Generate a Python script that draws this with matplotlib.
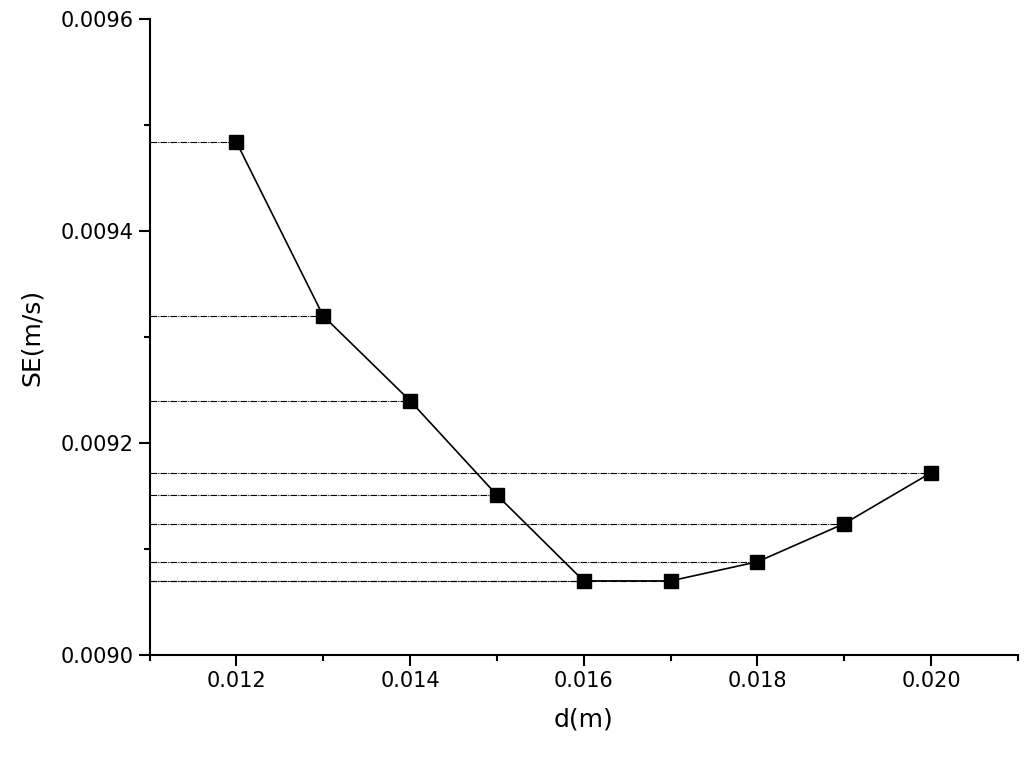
import matplotlib.pyplot as plt
from matplotlib.ticker import MultipleLocator

# data
d = [0.012, 0.013, 0.014, 0.015, 0.016, 0.017, 0.018, 0.019, 0.020]
se = [0.009484, 0.00932, 0.00924, 0.009151, 0.00907, 0.00907, 0.009088, 0.009124, 0.009172]

fig = plt.figure(figsize=(10.24, 7.6), dpi=100)
ax = fig.add_axes([0.146, 0.138, 0.848, 0.837])

# guide lines from the y axis to each point
for x, y in zip(d, se):
    ax.plot([0.011, x], [y, y], color='black', lw=0.8, ls='-.', dashes=(6, 1, 1, 1))

ax.plot(d, se, color='black', lw=1.2, marker='s', markersize=10)

ax.set_xlim(0.011, 0.021)
ax.set_ylim(0.0090, 0.0096)
ax.xaxis.set_major_locator(MultipleLocator(0.002))
ax.xaxis.set_minor_locator(MultipleLocator(0.001))
ax.yaxis.set_major_locator(MultipleLocator(0.0002))
ax.yaxis.set_minor_locator(MultipleLocator(0.0001))
ax.xaxis.set_major_formatter(lambda v, p: f'{v:.3f}')
ax.yaxis.set_major_formatter(lambda v, p: f'{v:.4f}')

for s in ['top', 'right']:
    ax.spines[s].set_visible(False)
for s in ['left', 'bottom']:
    ax.spines[s].set_linewidth(1.5)

ax.tick_params(which='major', length=8, width=1.5, labelsize=15, direction='out')
ax.tick_params(which='minor', length=4, width=1.5, direction='out')

ax.set_xlabel('d(m)', fontsize=18, labelpad=12)
ax.set_ylabel('SE(m/s)', fontsize=18, labelpad=12)

fig.savefig('out.png', dpi=100)
